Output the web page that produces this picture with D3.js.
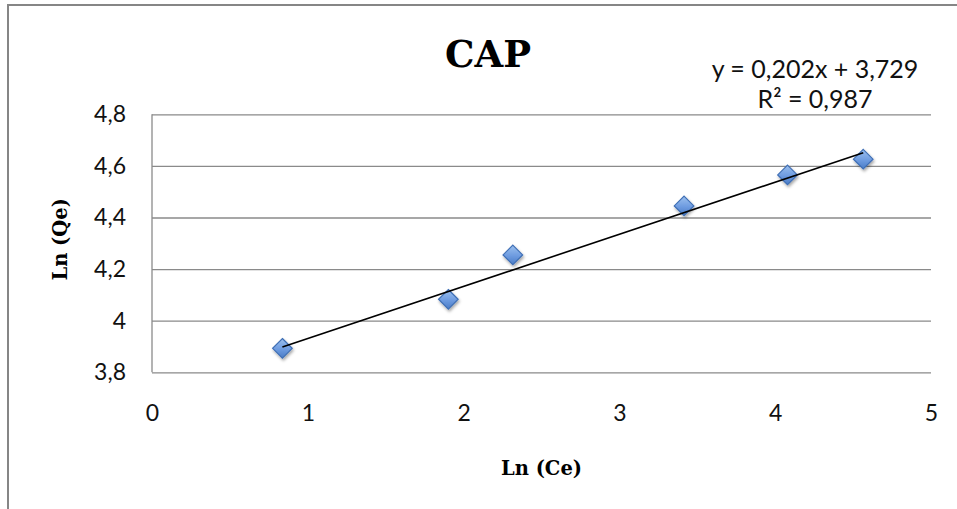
<!DOCTYPE html>
<html>
<head>
<meta charset="utf-8">
<script src="https://cdn.jsdelivr.net/npm/d3@7"></script>
<style>
  html, body { margin: 0; padding: 0; background: #fff; }
  svg { display: block; }
</style>
</head>
<body>
<script>
// Freundlich isotherm, linearised: Ln(Qe) against Ln(Ce)
const lnCe = [0.837, 1.902, 2.316, 3.415, 4.079, 4.565];
const lnQe = [3.893, 4.083, 4.255, 4.445, 4.565, 4.626];

// Linear trendline as printed on the chart
const slope = 0.202;
const intercept = 3.729;
const rSquared = 0.987;

const xTicks = [0, 1, 2, 3, 4, 5];
const yTicks = [3.8, 4.0, 4.2, 4.4, 4.6, 4.8];

const fmt = v => String(+v.toFixed(3)).replace(".", ",");

const W = 957, H = 509;
const plot = { left: 152, right: 931, top: 114.3, bottom: 372.3 };

const svg = d3.select("body").append("svg")
  .attr("width", W).attr("height", H);

const defs = svg.append("defs");
const grad = defs.append("linearGradient")
  .attr("id", "markerFill").attr("x1", 0).attr("y1", 0).attr("x2", 0).attr("y2", 1);
grad.append("stop").attr("offset", "0%").attr("stop-color", "#9cc0ee");
grad.append("stop").attr("offset", "55%").attr("stop-color", "#6d9be0");
grad.append("stop").attr("offset", "100%").attr("stop-color", "#4a7cc6");

const shadow = defs.append("filter").attr("id", "markerShadow")
  .attr("x", "-50%").attr("y", "-50%").attr("width", "200%").attr("height", "200%");
shadow.append("feDropShadow")
  .attr("dx", 1).attr("dy", 2).attr("stdDeviation", 1.8)
  .attr("flood-color", "#000").attr("flood-opacity", 0.35);

// Chart frame
svg.append("path")
  .attr("d", `M8,${H} V5 H${W}`)
  .attr("fill", "none").attr("stroke", "#868686").attr("stroke-width", 2);

const x = d3.scaleLinear().domain([0, 5]).range([plot.left, plot.right]);
const y = d3.scaleLinear().domain([3.8, 4.8]).range([plot.bottom, plot.top]);

// Horizontal gridlines
svg.append("g")
  .attr("transform", `translate(${plot.left},0)`)
  .call(d3.axisLeft(y).tickValues(yTicks).tickSize(-(plot.right - plot.left)).tickFormat(""))
  .call(g => g.select(".domain").remove())
  .call(g => g.selectAll(".tick line").attr("stroke", "#8a8a8a").attr("stroke-width", 1.3));

// Vertical axis line
svg.append("line")
  .attr("x1", plot.left).attr("x2", plot.left)
  .attr("y1", y(4.8)).attr("y2", y(3.8))
  .attr("stroke", "#8a8a8a").attr("stroke-width", 1.3);

// Y tick labels
svg.append("g")
  .attr("transform", `translate(${plot.left},0)`)
  .call(d3.axisLeft(y).tickValues(yTicks).tickSize(0).tickPadding(26).tickFormat(fmt))
  .call(g => g.select(".domain").remove())
  .call(g => g.selectAll("text")
    .attr("font-family", "Lato, sans-serif").attr("font-size", 23).attr("fill", "#111"));

// X tick labels
svg.append("g")
  .attr("transform", `translate(0,${plot.bottom})`)
  .call(d3.axisBottom(x).tickValues(xTicks).tickSize(0).tickPadding(32).tickFormat(fmt))
  .call(g => g.select(".domain").remove())
  .call(g => g.selectAll("text")
    .attr("font-family", "Lato, sans-serif").attr("font-size", 23).attr("fill", "#111"));

// Trendline across the data range
const x0 = d3.min(lnCe), x1 = d3.max(lnCe);
const trend = g => g.append("line")
  .attr("x1", x(x0)).attr("y1", y(slope * x0 + intercept))
  .attr("x2", x(x1)).attr("y2", y(slope * x1 + intercept))
  .attr("stroke", "#000").attr("stroke-width", 1.6);

// Diamond markers
const diamond = d3.symbol().type(d3.symbolDiamond2).size(245);
svg.append("g").selectAll("path")
  .data(lnCe.map((v, i) => [v, lnQe[i]]))
  .join("path")
  .attr("d", diamond)
  .attr("transform", d => `translate(${x(d[0])},${y(d[1])})`)
  .attr("fill", "url(#markerFill)")
  .attr("stroke", "#3f6fb5").attr("stroke-width", 1.2)
  .attr("filter", "url(#markerShadow)");

// Trendline drawn over the markers
svg.call(trend);

// Title
svg.append("text")
  .attr("x", 488).attr("y", 67)
  .attr("text-anchor", "middle")
  .attr("font-family", "'DejaVu Serif', serif").attr("font-weight", "bold")
  .attr("font-size", 37).attr("fill", "#000")
  .text("CAP");

// Trendline equation
const eq = svg.append("g").attr("font-family", "Lato, sans-serif")
  .attr("font-size", 25).attr("fill", "#111").attr("text-anchor", "middle");
eq.append("text").attr("x", 815).attr("y", 78)
  .text(`y = ${fmt(slope)}x + ${fmt(intercept)}`);
eq.append("text").attr("x", 815).attr("y", 108)
  .text(`R² = ${fmt(rSquared)}`);

// Axis titles
svg.append("text")
  .attr("x", (plot.left + plot.right) / 2).attr("y", 475)
  .attr("text-anchor", "middle")
  .attr("font-family", "'DejaVu Serif', serif").attr("font-weight", "bold")
  .attr("font-size", 19.5).attr("fill", "#000")
  .text("Ln (Ce)");

svg.append("text")
  .attr("transform", `translate(67,${(plot.top + plot.bottom) / 2 - 4}) rotate(-90)`)
  .attr("text-anchor", "middle")
  .attr("font-family", "'DejaVu Serif', serif").attr("font-weight", "bold")
  .attr("font-size", 19.5).attr("fill", "#000")
  .text("Ln (Qe)");
</script>
</body>
</html>
